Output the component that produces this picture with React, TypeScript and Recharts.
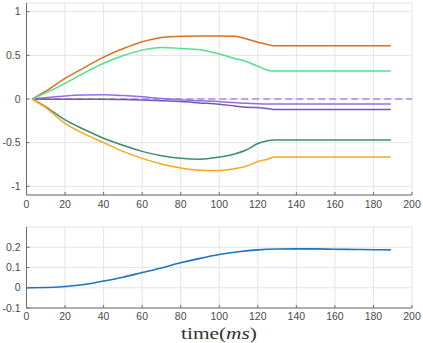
import React from 'react';
import { LineChart, Line, XAxis, YAxis, CartesianGrid } from 'recharts';

// ---- Top panel data ----
const topTimes = [3, 10, 20, 30, 40, 50, 60, 70, 80, 90, 100, 108, 114, 120, 125, 129, 150, 189];
const seriesDarkOrange = [0, 0.09, 0.236, 0.36, 0.48, 0.575, 0.655, 0.705, 0.72, 0.722, 0.722, 0.72, 0.69, 0.65, 0.625, 0.609, 0.609, 0.609];
const seriesLightGreen = [0, 0.07, 0.18, 0.3, 0.41, 0.495, 0.56, 0.59, 0.58, 0.565, 0.515, 0.465, 0.43, 0.375, 0.33, 0.32, 0.32, 0.32];
const seriesDarkGreen = [0, -0.09, -0.24, -0.35, -0.45, -0.53, -0.6, -0.65, -0.68, -0.69, -0.665, -0.63, -0.585, -0.51, -0.478, -0.47, -0.47, -0.47];
const seriesOrange = [0, -0.1, -0.28, -0.4, -0.5, -0.6, -0.68, -0.745, -0.79, -0.815, -0.818, -0.8, -0.77, -0.716, -0.69, -0.665, -0.665, -0.665];
const seriesLightPurple = [0, 0.015, 0.035, 0.045, 0.048, 0.04, 0.025, 0.005, -0.01, -0.02, -0.03, -0.04, -0.05, -0.055, -0.057, -0.057, -0.057, -0.057];
const seriesDarkPurple = [0, -0.002, -0.003, -0.003, -0.003, -0.006, -0.012, -0.02, -0.03, -0.045, -0.06, -0.08, -0.095, -0.097, -0.11, -0.12, -0.12, -0.12];
const referenceTimes = [3, 200];
const referenceValue = 0;

// ---- Bottom panel data ----
const bottomTimes = [0, 10, 20, 30, 40, 50, 60, 70, 80, 90, 100, 110, 120, 130, 140, 150, 160, 170, 180, 189];
const seriesBlue = [0, 0.001, 0.006, 0.016, 0.033, 0.052, 0.075, 0.098, 0.123, 0.145, 0.164, 0.178, 0.187, 0.191, 0.192, 0.192, 0.19, 0.189, 0.188, 0.187];

// ---- Ticks ----
const xTicks = [0, 20, 40, 60, 80, 100, 120, 140, 160, 180, 200];
const topYTicks = [-1, -0.5, 0, 0.5, 1];
const bottomYTicks = [-0.1, 0, 0.1, 0.2];

const topData: any[] = topTimes.map((t, i) => ({
  t,
  a: seriesDarkOrange[i],
  b: seriesLightGreen[i],
  c: seriesDarkGreen[i],
  d: seriesOrange[i],
  e: seriesLightPurple[i],
  f: seriesDarkPurple[i],
  r: referenceValue,
}));
topData.push({ t: referenceTimes[1], r: referenceValue });

const bottomData = bottomTimes.map((t, i) => ({ t, v: seriesBlue[i] }));

const tickStyle = { fontSize: 10.5, fill: '#4a4a4a', fontFamily: "'Liberation Sans', Arial, sans-serif" };
const axisColor = '#6e6e6e';
const gridColor = '#e4e4e4';

const TimeLabel = () => (
  <text
    x={219}
    y={123.7}
    textAnchor="middle"
    fontFamily="'Liberation Serif', 'Times New Roman', serif"
    fontSize={16}
    fill="#333333"
    textLength={76}
    lengthAdjust="spacingAndGlyphs"
  >
    time(<tspan fontStyle="italic">ms</tspan>)
  </text>
);

export default function App() {
  return (
    <div style={{ position: 'absolute', left: 0, top: 0, width: 423, height: 343, background: '#fff' }}>
      <div style={{ position: 'absolute', left: 0, top: 0 }}>
        <LineChart width={423} height={215} data={topData} margin={{ top: 3, right: 11, bottom: 0, left: 0.5 }}>
          <CartesianGrid stroke={gridColor} strokeWidth={1} />
          <XAxis
            dataKey="t"
            type="number"
            domain={[0, 200]}
            ticks={xTicks}
            height={20}
            tick={tickStyle}
            tickSize={-3}
            tickMargin={9}
            axisLine={{ stroke: axisColor }}
            tickLine={{ stroke: axisColor }}
            interval={0}
          />
          <YAxis
            type="number"
            domain={[-1.1, 1.1]}
            ticks={topYTicks}
            width={26}
            tick={tickStyle}
            tickSize={-3}
            tickMargin={9}
            axisLine={{ stroke: axisColor }}
            tickLine={{ stroke: axisColor }}
            interval={0}
          />
          <Line dataKey="r" stroke="#ad86e6" strokeWidth={1.5} strokeDasharray="7 4" dot={false} isAnimationActive={false} type="linear" />
          <Line dataKey="e" stroke="#9a6be3" strokeWidth={1.5} dot={false} isAnimationActive={false} type="monotone" />
          <Line dataKey="f" stroke="#6e5ab5" strokeWidth={1.5} dot={false} isAnimationActive={false} type="monotone" />
          <Line dataKey="a" stroke="#d7701f" strokeWidth={1.5} dot={false} isAnimationActive={false} type="monotone" />
          <Line dataKey="b" stroke="#52e08c" strokeWidth={1.5} dot={false} isAnimationActive={false} type="monotone" />
          <Line dataKey="c" stroke="#3e8c6c" strokeWidth={1.5} dot={false} isAnimationActive={false} type="monotone" />
          <Line dataKey="d" stroke="#ffa41f" strokeWidth={1.5} dot={false} isAnimationActive={false} type="monotone" />
        </LineChart>
      </div>
      <div style={{ position: 'absolute', left: 0, top: 215 }}>
        <LineChart width={423} height={128} data={bottomData} margin={{ top: 12, right: 11, bottom: 0, left: 0.5 }}>
          <CartesianGrid stroke={gridColor} strokeWidth={1} />
          <XAxis
            dataKey="t"
            type="number"
            domain={[0, 200]}
            ticks={xTicks}
            height={35}
            tick={tickStyle}
            tickSize={-3}
            tickMargin={8}
            axisLine={{ stroke: axisColor }}
            tickLine={{ stroke: axisColor }}
            interval={0}
            label={{ content: () => <TimeLabel /> }}
          />
          <YAxis
            type="number"
            domain={[-0.1, 0.3]}
            ticks={bottomYTicks}
            width={26}
            tick={tickStyle}
            tickSize={-3}
            tickMargin={9}
            axisLine={{ stroke: axisColor }}
            tickLine={{ stroke: axisColor }}
            interval={0}
          />
          <Line dataKey="v" stroke="#1a75c4" strokeWidth={1.6} dot={false} isAnimationActive={false} type="monotone" />
        </LineChart>
      </div>
    </div>
  );
}
